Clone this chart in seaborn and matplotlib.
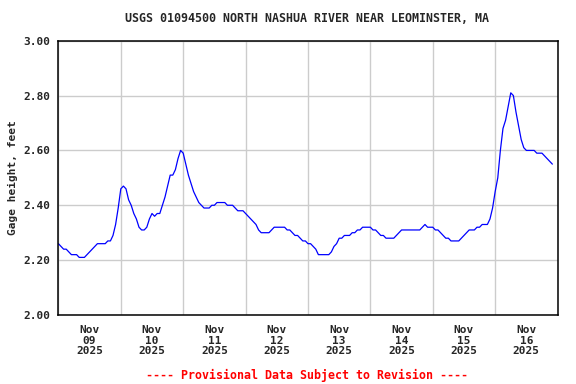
import numpy as np
import pandas as pd
import matplotlib
matplotlib.use("Agg")
import matplotlib.pyplot as plt
import matplotlib.dates as mdates
import seaborn as sns

sns.set_style("white")
plt.rcParams['font.family'] = ['DejaVu Sans Mono']
plt.rcParams['font.weight'] = 'bold'

# hourly gage height readings (feet), starting Nov 09 2025 00:00
nov09 = [2.26, 2.25, 2.24, 2.24, 2.23, 2.22, 2.22, 2.22, 2.21, 2.21, 2.21, 2.22,
         2.23, 2.24, 2.25, 2.26, 2.26, 2.26, 2.26, 2.27, 2.27, 2.29, 2.33, 2.39]
nov10 = [2.46, 2.47, 2.46, 2.42, 2.40, 2.37, 2.35, 2.32, 2.31, 2.31, 2.32, 2.35,
         2.37, 2.36, 2.37, 2.37, 2.40, 2.43, 2.47, 2.51, 2.51, 2.53, 2.57, 2.60]
nov11 = [2.59, 2.55, 2.51, 2.48, 2.45, 2.43, 2.41, 2.40, 2.39, 2.39, 2.39, 2.40,
         2.40, 2.41, 2.41, 2.41, 2.41, 2.40, 2.40, 2.40, 2.39, 2.38, 2.38, 2.38]
nov12 = [2.37, 2.36, 2.35, 2.34, 2.33, 2.31, 2.30, 2.30, 2.30, 2.30, 2.31, 2.32,
         2.32, 2.32, 2.32, 2.32, 2.31, 2.31, 2.30, 2.29, 2.29, 2.28, 2.27, 2.27]
nov13 = [2.26, 2.26, 2.25, 2.24, 2.22, 2.22, 2.22, 2.22, 2.22, 2.23, 2.25, 2.26,
         2.28, 2.28, 2.29, 2.29, 2.29, 2.30, 2.30, 2.31, 2.31, 2.32, 2.32, 2.32]
nov14 = [2.32, 2.31, 2.31, 2.30, 2.29, 2.29, 2.28, 2.28, 2.28, 2.28, 2.29, 2.30,
         2.31, 2.31, 2.31, 2.31, 2.31, 2.31, 2.31, 2.31, 2.32, 2.33, 2.32, 2.32]
nov15 = [2.32, 2.31, 2.31, 2.30, 2.29, 2.28, 2.28, 2.27, 2.27, 2.27, 2.27, 2.28,
         2.29, 2.30, 2.31, 2.31, 2.31, 2.32, 2.32, 2.33, 2.33, 2.33, 2.35, 2.39]
nov16 = [2.45, 2.50, 2.60, 2.68, 2.71, 2.76, 2.81, 2.80, 2.74, 2.69, 2.64, 2.61,
         2.60, 2.60, 2.60, 2.60, 2.59, 2.59, 2.59, 2.58, 2.57, 2.56, 2.55]

values = nov09 + nov10 + nov11 + nov12 + nov13 + nov14 + nov15 + nov16
df = pd.DataFrame({
    "time": pd.date_range("2025-11-09 00:00", periods=len(values), freq="h"),
    "gage": values,
})

yticks = [2.00, 2.20, 2.40, 2.60, 2.80, 3.00]

fig = plt.figure(figsize=(5.76, 3.84), dpi=100)
ax = fig.add_axes([0.1014, 0.1797, 0.8666, 0.7143])

sns.lineplot(data=df, x="time", y="gage", ax=ax, color="#0000ff", linewidth=0.9)

ax.set_xlim(pd.Timestamp("2025-11-09"), pd.Timestamp("2025-11-17"))
ax.set_ylim(2.0, 3.0)
ax.set_yticks(yticks)
ax.yaxis.set_major_formatter(matplotlib.ticker.FormatStrFormatter("%.2f"))

ax.xaxis.set_major_locator(mdates.DayLocator())
ax.xaxis.set_major_formatter(matplotlib.ticker.NullFormatter())
ax.xaxis.set_minor_locator(mdates.HourLocator(byhour=[12]))
ax.xaxis.set_minor_formatter(mdates.DateFormatter("%b\n%d\n%Y"))

ax.grid(True, which="major", color="#cccccc", linewidth=1.0)
ax.tick_params(axis="both", which="both", length=0, labelsize=8)
ax.tick_params(axis="y", pad=6)
ax.tick_params(axis="x", which="minor", pad=7)
for lab in ax.xaxis.get_minorticklabels():
    lab.set_linespacing(1.1)
    lab.set_fontweight("bold")
for lab in ax.get_yticklabels():
    lab.set_fontweight("bold")

for sp in ax.spines.values():
    sp.set_color("black")
    sp.set_linewidth(1.1)

ax.set_xlabel("")
ax.set_ylabel("Gage height, feet", fontsize=8, fontweight="bold", labelpad=4)

fig.text(0.533, 1 - 19 / 384, "USGS 01094500 NORTH NASHUA RIVER NEAR LEOMINSTER, MA",
         ha="center", va="center", fontsize=8.4, fontweight="bold")
fig.text(0.533, 1 - 375 / 384, "---- Provisional Data Subject to Revision ----",
         ha="center", va="center", fontsize=8.4, fontweight="bold", color="red")

fig.savefig("out.png", dpi=100)
